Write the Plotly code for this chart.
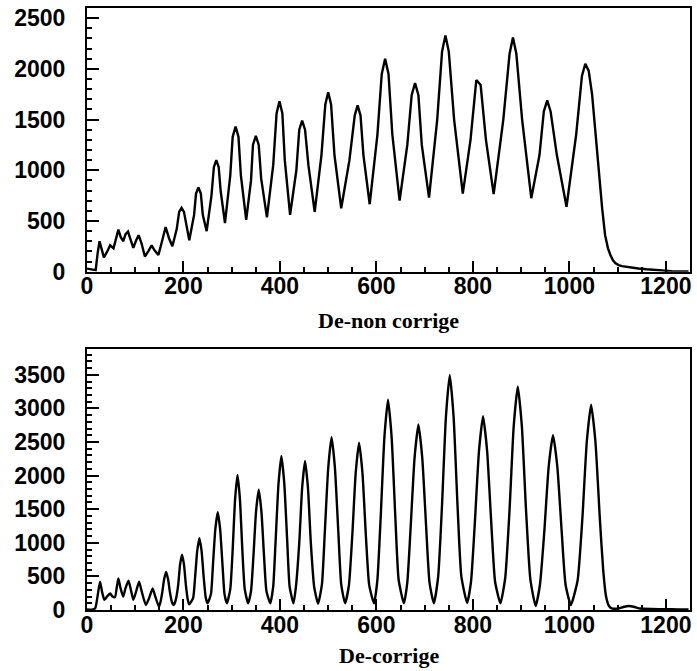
import plotly.graph_objects as go

# ---- Data (channel vs counts) ----
x_non = [0, 10, 18, 22, 26, 30, 35, 42, 48, 55, 60, 65, 70, 75, 80, 85, 90, 96, 102, 107,
         113, 120, 127, 134, 140, 148, 155, 163, 170, 177, 186, 191, 196, 201, 212, 222, 226, 231, 236, 240,
         248, 258, 263, 268, 273, 277, 286, 297, 302, 308, 314, 319, 330, 340, 344, 350, 356, 361, 373,
         386, 393, 399, 405, 410, 421, 434, 440, 446, 452, 459, 472, 486, 494, 500, 506, 513, 527,
         544, 555, 561, 567, 573, 586, 602, 611, 618, 625, 633, 648, 664, 673, 680, 687, 694, 709,
         726, 736, 743, 750, 761, 779, 795, 807, 816, 827, 843, 863, 876, 883, 890, 902, 921, 938,
         947, 954, 961, 974, 994, 1014, 1026, 1033, 1040, 1047, 1054, 1062, 1068, 1074, 1080, 1085,
         1090, 1095, 1102, 1109, 1125, 1143, 1160, 1178, 1195, 1212, 1230, 1247]
y_non = [30, 20, 15, 180, 300, 230, 140, 200, 260, 230, 330, 415, 340, 300, 370, 395, 320, 235,
         310, 360, 280, 150, 200, 260, 210, 165, 290, 440, 330, 250, 420, 590, 630, 590, 310, 560,
         770, 830, 770, 560, 400, 750, 1030, 1100, 1030, 800, 480, 950, 1330, 1430, 1330, 950, 510,
         900, 1250, 1340, 1250, 920, 535, 1050, 1560, 1680, 1560, 1100, 560, 1000, 1400, 1490, 1400,
         1050, 590, 1150, 1650, 1770, 1650, 1150, 625, 1100, 1540, 1640, 1540, 1150, 665, 1350,
         1950, 2100, 1950, 1350, 700, 1250, 1740, 1860, 1740, 1250, 730, 1500, 2170, 2330, 2170,
         1500, 770, 1300, 1890, 1840, 1300, 765, 1500, 2150, 2310, 2150, 1500, 725, 1150, 1580,
         1690, 1580, 1150, 640, 1350, 1930, 2050, 1980, 1750, 1350, 900, 620, 360, 230, 165, 115,
         85, 65, 55, 42, 32, 24, 16, 10, 6, 3, 2]

x_cor = [0, 10, 17, 22, 27, 31, 36, 42, 48, 53, 58, 62, 65, 69, 75, 80, 86, 91, 96, 102, 108, 114,
         122, 129, 136, 142, 149,
         152, 156, 160, 164, 168, 172, 176, 180,
         184, 189, 193, 197, 201, 205, 209, 212,
         220, 224, 228.5, 233, 237.5, 242, 246, 250,
         257, 261, 266, 271, 276, 281, 285, 290,
         297, 302, 307, 312, 317, 322, 327, 334,
         340, 345, 350.5, 356, 361.5, 367, 372, 380,
         386, 391, 397, 403, 409, 415, 420, 428,
         433, 440, 446, 452, 458, 464, 471, 479,
         487, 493, 500, 507, 514, 521, 527, 535,
         543, 550, 557, 564, 571, 578, 585, 595,
         602, 609, 616.5, 624, 631.5, 639, 646, 657,
         664, 671, 679, 687, 695, 703, 710, 719,
         728, 736, 744, 752, 760, 768, 776, 788,
         796, 804, 812.5, 821, 829.5, 838, 846, 857,
         867, 876, 884.5, 893, 901.5, 910, 919, 930,
         939, 948, 957, 966, 975, 984, 992, 1003,
         1017, 1027, 1036, 1045, 1054, 1063, 1070, 1076, 1082, 1088, 1100, 1112, 1123, 1135,
         1147, 1170, 1200, 1225, 1247]
y_cor = [10, 6, 25, 210, 420, 280, 150, 205, 245, 200, 190, 350, 470, 340, 200, 330, 435, 300, 150,
         280, 420, 260, 75, 180, 320, 190, 50,
         110, 260, 460, 567, 460, 260, 120, 74,
         150, 370, 680, 823, 680, 370, 150, 84,
         180, 480, 880, 1070, 880, 480, 190, 99,
         240, 660, 1200, 1454, 1200, 660, 240, 99,
         310, 900, 1650, 2011, 1650, 900, 310, 99,
         280, 800, 1470, 1789, 1470, 800, 280, 99,
         350, 1030, 1880, 2292, 1880, 1030, 350, 99,
         340, 1000, 1820, 2218, 1820, 1000, 340, 95,
         380, 1160, 2110, 2573, 2110, 1160, 380, 99,
         370, 1120, 2040, 2489, 2040, 1120, 370, 99,
         450, 1410, 2570, 3130, 2570, 1410, 450, 99,
         410, 1240, 2260, 2760, 2260, 1240, 410, 99,
         500, 1570, 2870, 3499, 2870, 1570, 500, 105,
         420, 1300, 2360, 2883, 2360, 1300, 420, 99,
         480, 1500, 2730, 3327, 2730, 1500, 460, 60,
         380, 1170, 2130, 2602, 2130, 1170, 380, 74,
         440, 1375, 2500, 3056, 2500, 1375, 600, 200, 60, 25, 20, 45, 60, 45,
         22, 15, 12, 10, 8]

title_top = "De-non corrige"
title_bottom = "De-corrige"

# ---- Figure ----
W, H = 697, 671
ML, MR, MT, MB = 87, 5, 5, 61
plot_h = H - MT - MB

def frac(px):
    return (H - MB - px) / plot_h

fig = go.Figure()
fig.add_trace(go.Scatter(x=x_non, y=y_non, mode="lines",
                         line=dict(color="black", width=2.4, shape="linear"),
                         xaxis="x", yaxis="y", showlegend=False, hoverinfo="skip"))
fig.add_trace(go.Scatter(x=x_cor, y=y_cor, mode="lines",
                         line=dict(color="black", width=2.4, shape="spline", smoothing=0.5),
                         xaxis="x2", yaxis="y2", showlegend=False, hoverinfo="skip"))

tickfont = dict(family="Liberation Sans, Arial, sans-serif", size=23, color="black", weight="bold")

def xax(anchor):
    return dict(range=[0, 1250], anchor=anchor, showline=True, linecolor="black", linewidth=2,
                mirror=True, ticks="inside", ticklen=11, tickwidth=2, tickcolor="black",
                tick0=0, dtick=200, showgrid=False, zeroline=False, tickfont=tickfont,
                ticklabelstandoff=-7,
                minor=dict(dtick=50, ticks="inside", ticklen=5, tickwidth=2, tickcolor="black",
                           showgrid=False))

def yax(anchor, rng, dom):
    return dict(range=rng, anchor=anchor, domain=dom, showline=True, linecolor="black",
                linewidth=2, mirror=True, ticks="inside", ticklen=12, tickwidth=2,
                tickcolor="black", tick0=0, dtick=500, showgrid=False, zeroline=False,
                tickfont=tickfont, ticklabelstandoff=15,
                minor=dict(dtick=100, ticks="inside", ticklen=5, tickwidth=2,
                           tickcolor="black", showgrid=False))

fig.update_layout(
    width=W, height=H,
    margin=dict(l=ML, r=MR, t=MT, b=MB),
    paper_bgcolor="white", plot_bgcolor="white",
    xaxis=xax("y"),
    yaxis=yax("x", [0, 2600], [frac(270), 1]),
    xaxis2=xax("y2"),
    yaxis2=yax("x2", [0, 3880], [0, frac(348)]),
    annotations=[
        dict(text=title_top, xref="paper", yref="paper", x=0.5, y=frac(319), showarrow=False,
             xanchor="center", yanchor="middle",
             font=dict(family="Liberation Serif, Times New Roman, serif", size=22,
                       color="black", weight="bold")),
        dict(text=title_bottom, xref="paper", yref="paper", x=0.5, y=frac(656), showarrow=False,
             xanchor="center", yanchor="middle",
             font=dict(family="Liberation Serif, Times New Roman, serif", size=22,
                       color="black", weight="bold")),
    ],
)

fig.write_html("out.html", config={"displayModeBar": False},
               post_script="document.body.style.margin='0px';document.body.style.overflow='hidden';")
